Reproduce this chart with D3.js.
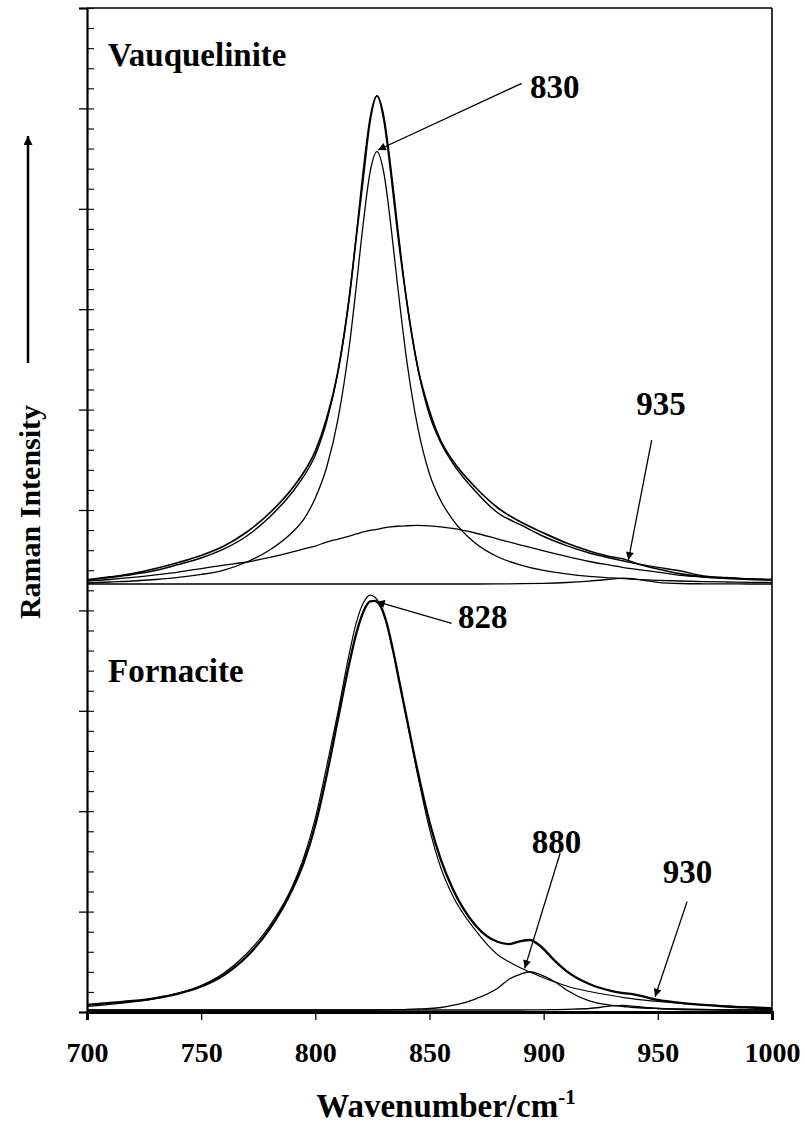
<!DOCTYPE html>
<html>
<head>
<meta charset="utf-8">
<script src="https://cdn.jsdelivr.net/npm/d3@7"></script>
<style>
  html, body { margin: 0; padding: 0; background: #fff; }
  svg { display: block; }
  text { font-family: "Liberation Serif", "Times New Roman", serif; font-weight: bold; fill: #000; }
</style>
</head>
<body>
<div id="chart"></div>
<script>
// ---------------- DATA ----------------
// Wavenumber grid (cm-1) for the Vauquelinite (upper) spectrum
const wnTop = [700,710,720,730,740,750,760,770,780,790,795,800,805,810,815,818,821,824,827,830,833,836,840,845,850,855,860,870,880,890,900,910,920,930,935,940,950,960,970,980,990,1000];
// Intensities in axis units (stacking offset included)
const vauqMeasured = [4.303,4.333,4.367,4.417,4.477,4.547,4.641,4.781,4.970,5.219,5.378,5.588,5.916,6.394,7.141,7.729,8.307,8.874,9.124,8.884,8.367,7.769,7.082,6.404,5.986,5.687,5.498,5.229,5.020,4.880,4.771,4.671,4.592,4.532,4.512,4.472,4.412,4.363,4.333,4.318,4.308,4.303];
const vauqFit = [4.303,4.328,4.358,4.397,4.457,4.522,4.612,4.741,4.930,5.179,5.339,5.548,5.886,6.384,7.141,7.749,8.386,8.909,9.124,8.924,8.426,7.829,7.082,6.399,5.946,5.667,5.473,5.189,4.970,4.851,4.736,4.646,4.572,4.517,4.492,4.469,4.429,4.392,4.343,4.328,4.315,4.308];
const vauqBand830 = [4.273,4.283,4.293,4.308,4.328,4.358,4.402,4.482,4.601,4.781,4.910,5.120,5.428,5.916,6.653,7.241,7.859,8.367,8.569,8.357,7.849,7.241,6.494,5.807,5.359,5.090,4.910,4.671,4.532,4.452,4.398,4.363,4.338,4.323,4.316,4.310,4.300,4.293,4.287,4.283,4.280,4.278];
const vauqBandBroad = [4.293,4.308,4.328,4.353,4.382,4.417,4.452,4.482,4.527,4.582,4.612,4.641,4.681,4.711,4.741,4.761,4.781,4.796,4.806,4.821,4.831,4.838,4.843,4.846,4.841,4.831,4.816,4.771,4.711,4.651,4.592,4.537,4.487,4.447,4.427,4.412,4.382,4.348,4.333,4.323,4.313,4.308];
const vauqBand935 = [4.263,4.263,4.263,4.263,4.263,4.263,4.263,4.263,4.263,4.263,4.263,4.263,4.263,4.263,4.263,4.263,4.263,4.263,4.263,4.263,4.263,4.263,4.263,4.263,4.263,4.263,4.263,4.263,4.264,4.266,4.270,4.278,4.292,4.312,4.322,4.312,4.280,4.268,4.265,4.264,4.263,4.263];

// Wavenumber grid (cm-1) for the Fornacite (lower) spectrum
const wnBottom = [700,710,720,730,740,750,760,770,780,790,795,800,805,810,815,818,821,824,826,828,831,834,837,840,845,850,855,860,870,880,885,890,894,898,905,910,920,930,935,940,950,960,970,980,990,1000];
const fornMeasured = [0.070,0.090,0.110,0.139,0.184,0.254,0.369,0.553,0.827,1.225,1.494,1.863,2.361,2.928,3.486,3.775,3.984,4.089,4.094,4.064,3.894,3.606,3.267,2.928,2.380,1.892,1.514,1.235,0.867,0.697,0.677,0.707,0.717,0.667,0.508,0.408,0.279,0.209,0.189,0.174,0.120,0.090,0.070,0.055,0.045,0.037];
const fornBand828 = [0.055,0.075,0.100,0.134,0.189,0.264,0.388,0.583,0.857,1.255,1.544,1.932,2.450,2.998,3.586,3.884,4.074,4.153,4.133,4.074,3.884,3.596,3.267,2.918,2.341,1.823,1.434,1.165,0.817,0.568,0.498,0.438,0.398,0.359,0.299,0.259,0.204,0.164,0.144,0.129,0.105,0.085,0.070,0.060,0.050,0.040];
const fornBand880 = [0.020,0.020,0.020,0.020,0.020,0.020,0.020,0.020,0.020,0.020,0.020,0.020,0.020,0.020,0.020,0.020,0.020,0.020,0.020,0.020,0.022,0.023,0.023,0.025,0.030,0.035,0.045,0.065,0.129,0.239,0.329,0.378,0.401,0.378,0.299,0.219,0.110,0.065,0.055,0.045,0.035,0.030,0.025,0.020,0.020,0.020];
const fornBand930 = [0.020,0.020,0.020,0.020,0.020,0.020,0.020,0.020,0.020,0.020,0.020,0.020,0.020,0.020,0.020,0.020,0.020,0.020,0.020,0.020,0.020,0.020,0.020,0.020,0.020,0.020,0.020,0.020,0.020,0.020,0.020,0.020,0.021,0.022,0.024,0.027,0.035,0.060,0.065,0.055,0.035,0.025,0.021,0.020,0.020,0.020];

// Axis ticks
const xTicks = [700,750,800,850,900,950,1000];
const yMajorTicks = [0,1,2,3,4,5,6,7,8,9,10];
const yMinorTicks = d3.range(0, 51).map(i => i / 5);

// Text labels
const panelLabels = ["Vauquelinite", "Fornacite"];
const panelLabelWn = [709.2, 709.2];
const panelLabelVal = [9.42, 3.287];
// Band annotations: label, label anchor (wn, value), arrow start (wn,value), arrow tip (wn,value)
const annLabels = ["830", "935", "828", "880", "930"];
const annLabelWn = [894.0, 951.4, 862.5, 905.6, 963.0];
const annLabelVal = [9.104, 5.946, 3.825, 1.584, 1.285];
const annAnchor = ["start", "middle", "start", "middle", "middle"];
const annFromWn = [890.4, 947.3, 859.7, 907.2, 962.8];
const annFromVal = [9.250, 5.697, 3.871, 1.581, 1.099];
const annToWn = [827.4, 937.1, 826.9, 891.7, 948.8];
const annToVal = [8.586, 4.502, 4.087, 0.435, 0.152];

// ---------------- DRAWING ----------------
const W = 805, H = 1128;
const svg = d3.select("#chart").append("svg").attr("width", W).attr("height", H);

const x = d3.scaleLinear().domain([700, 1000]).range([87, 772]);
const y = d3.scaleLinear().domain([0, 10]).range([1012, 8]);

const defs = svg.append("defs");
defs.append("marker")
  .attr("id", "ah").attr("viewBox", "0 0 10 10")
  .attr("refX", 10).attr("refY", 5)
  .attr("markerWidth", 11).attr("markerHeight", 8)
  .attr("markerUnits", "userSpaceOnUse")
  .attr("orient", "auto")
  .append("path").attr("d", "M0,0 L10,5 L0,10 Z").attr("fill", "#000");
defs.append("marker")
  .attr("id", "ahBig").attr("viewBox", "0 0 10 10")
  .attr("refX", 10).attr("refY", 5)
  .attr("markerWidth", 12).attr("markerHeight", 9)
  .attr("markerUnits", "userSpaceOnUse")
  .attr("orient", "auto")
  .append("path").attr("d", "M0,0 L10,5 L0,10 Z").attr("fill", "#000");

// frame (top and right)
svg.append("line").attr("x1", x(700)).attr("x2", x(1000)).attr("y1", y(10)).attr("y2", y(10))
  .attr("stroke", "#000").attr("stroke-width", 1.6);
svg.append("line").attr("x1", x(1000)).attr("x2", x(1000)).attr("y1", y(10)).attr("y2", y(0))
  .attr("stroke", "#000").attr("stroke-width", 1.6);

// spectra
function drawSeries(wn, vals, width) {
  const line = d3.line().x((d, i) => x(wn[i])).y(d => y(d)).curve(d3.curveMonotoneX);
  svg.append("path").datum(vals).attr("d", line)
    .attr("fill", "none").attr("stroke", "#000").attr("stroke-width", width)
    .attr("stroke-linejoin", "round");
}
drawSeries(wnTop, vauqBandBroad, 1.3);
drawSeries(wnTop, vauqBand935, 1.3);
drawSeries(wnTop, vauqBand830, 1.3);
drawSeries(wnTop, vauqFit, 1.4);
drawSeries(wnTop, vauqMeasured, 1.7);

drawSeries(wnBottom, fornBand880, 1.3);
drawSeries(wnBottom, fornBand930, 1.3);
drawSeries(wnBottom, fornBand828, 1.2);
drawSeries(wnBottom, fornMeasured, 2.3);

// x axis
const gx = svg.append("g").attr("transform", `translate(0,${y(0)})`)
  .call(d3.axisBottom(x).tickValues(xTicks).tickSize(8).tickPadding(22).tickFormat(d3.format("d")));
gx.select(".domain").attr("stroke-width", 3);
gx.selectAll(".tick line").attr("stroke-width", 1.3);
gx.selectAll(".tick text").attr("font-size", 28).attr("font-family", "Liberation Serif").attr("font-weight", "bold");

// y axis major (crossing) and minor (inside) ticks
const gyMaj = svg.append("g").attr("transform", `translate(${x(700)},0)`)
  .call(d3.axisLeft(y).tickValues(yMajorTicks).tickSize(8).tickFormat(""));
gyMaj.select(".domain").attr("stroke-width", 2.2);
gyMaj.selectAll(".tick line").attr("stroke-width", 1.3);
const gyMin = svg.append("g").attr("transform", `translate(${x(700)},0)`)
  .call(d3.axisRight(y).tickValues(yMinorTicks).tickSize(7).tickFormat(""));
gyMin.select(".domain").remove();
gyMin.selectAll(".tick line").attr("stroke-width", 1.1);

// panel labels
panelLabels.forEach((t, i) => {
  svg.append("text").attr("x", x(panelLabelWn[i])).attr("y", y(panelLabelVal[i]))
    .attr("font-size", 33).text(t);
});

// annotations
annLabels.forEach((t, i) => {
  svg.append("line")
    .attr("x1", x(annFromWn[i])).attr("y1", y(annFromVal[i]))
    .attr("x2", x(annToWn[i])).attr("y2", y(annToVal[i]))
    .attr("stroke", "#000").attr("stroke-width", 1.3)
    .attr("marker-end", "url(#ah)");
  svg.append("text").attr("x", x(annLabelWn[i])).attr("y", y(annLabelVal[i]))
    .attr("text-anchor", annAnchor[i]).attr("font-size", 33).text(t);
});

// x axis title
const xt = svg.append("text").attr("x", 446).attr("y", 1117).attr("text-anchor", "middle").attr("font-size", 33);
xt.append("tspan").text("Wavenumber/cm");
xt.append("tspan").attr("font-size", 21).attr("dy", -13).text("-1");

// y axis title and arrow
svg.append("text").attr("transform", "translate(40,512) rotate(-90)")
  .attr("text-anchor", "middle").attr("font-size", 30).text("Raman Intensity");
svg.append("line").attr("x1", 28).attr("x2", 28).attr("y1", 363).attr("y2", 136)
  .attr("stroke", "#000").attr("stroke-width", 2.5).attr("marker-end", "url(#ahBig)");
</script>
</body>
</html>
